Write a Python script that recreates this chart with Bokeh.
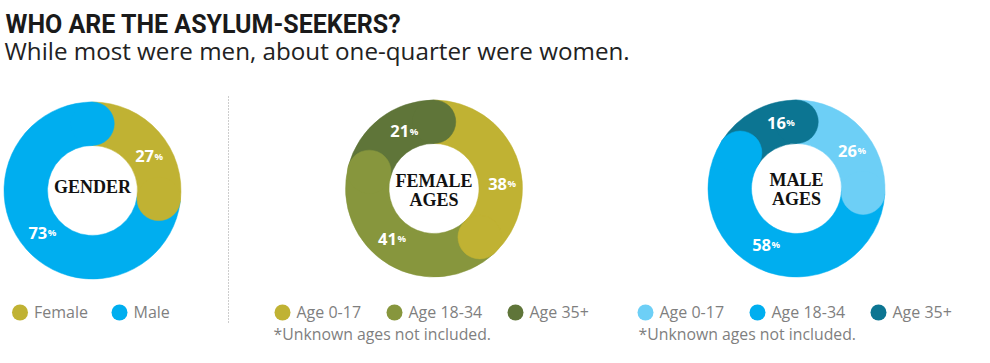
import math
from bokeh.plotting import figure
from bokeh.models import Range1d
from bokeh.core.properties import value
from bokeh.embed import file_html
from bokeh.resources import INLINE

# ---------------- data ----------------
title_text = "WHO ARE THE ASYLUM-SEEKERS?"
subtitle_text = "While most were men, about one-quarter were women."
chart_names = [["GENDER"], ["FEMALE", "AGES"], ["MALE", "AGES"]]
gender_categories = ["Female", "Male"]
gender_values = [27, 73]
female_age_categories = ["Age 0-17", "Age 18-34", "Age 35+"]
female_age_values = [38, 41, 21]
male_age_categories = ["Age 0-17", "Age 18-34", "Age 35+"]
male_age_values = [26, 58, 16]
footnote_text = "*Unknown ages not included."

# ---------------- styles ----------------
gender_colors = ["#C0B233", "#00AEEF"]
female_colors = ["#C0B233", "#87963D", "#5F7539"]
male_colors = ["#6DCFF6", "#00AEEF", "#0C7592"]

SANS = "Open Sans"
SERIF = "Liberation Serif"
LEGEND_GREY = "#7F7F7F"

# ---------------- layout (page pixel coords, y downwards) ----------------
W, H = 990, 363
def X(px):
    return px
def Y(py):
    return H - py

donut_centers = [(92, 190), (433.5, 188), (796, 188)]
R_OUT, R_IN = 88.5, 45.0
R_MID = (R_OUT + R_IN) / 2
CAP = (R_OUT - R_IN) / 2
# label placement: angular shift from the segment's mid angle, and radius
label_angle_shift = [[10.8, 0.9], [17.7, 8.6, 11.0], [9.3, 9.6, 16.2]]
label_radius = [[66.8, 64.7], [69.2, 64.9, 63.9], [68.0, 63.6, 67.3]]
center_line_offsets = [[-3.5], [-7.5, 11.5], [-8.5, 10.0]]

legend_circle_x = [[19.5, 119], [282, 394, 515], [645, 757, 878]]
legend_y = 312
legend_text_y = 311
footnote_x = [None, 273, 638]
footnote_y = 333.5

p = figure(width=W, height=H, output_backend="svg", toolbar_location=None,
           x_range=Range1d(0, W), y_range=Range1d(0, H),
           x_axis_location=None, y_axis_location=None, min_border=0,
           background_fill_color="white", border_fill_color="white")
p.outline_line_color = None
p.grid.visible = False

# title / subtitle
p.text(x=[X(5)], y=[Y(24)], text=[title_text], text_font=value("Roboto"),
       text_font_size="25px", text_font_style="bold", text_color="#1A1A1A",
       text_baseline="middle", text_align="left")
p.text(x=[X(4)], y=[Y(50)], text=[subtitle_text], text_font=value(SANS),
       text_font_size="24.2px", text_color="#222222",
       text_baseline="middle", text_align="left")

# separator
p.segment(x0=[X(228)], y0=[Y(96)], x1=[X(228)], y1=[Y(322)],
          line_color="#9A9A9A", line_width=1, line_dash="1 2")

datasets = [
    (gender_categories, gender_values, gender_colors),
    (female_age_categories, female_age_values, female_colors),
    (male_age_categories, male_age_values, male_colors),
]

for idx, (cats, vals, cols) in enumerate(datasets):
    cx, cy = donut_centers[idx]
    total = float(sum(vals))
    starts, ends = [], []
    acc = 0.0
    for v in vals:
        a0 = acc / total * 360.0
        acc += v
        a1 = acc / total * 360.0
        starts.append(a0)
        ends.append(a1)
    # wedges
    p.annular_wedge(x=[X(cx)] * len(vals), y=[Y(cy)] * len(vals),
                    inner_radius=R_IN, outer_radius=R_OUT,
                    start_angle=[math.pi / 2 - math.radians(a) for a in starts],
                    end_angle=[math.pi / 2 - math.radians(a) for a in ends],
                    direction="clock", fill_color=cols, line_color=cols,
                    line_width=0.5)
    # rounded end caps
    capx = [X(cx) + R_MID * math.sin(math.radians(a)) for a in ends]
    capy = [Y(cy) + R_MID * math.cos(math.radians(a)) for a in ends]
    p.circle(x=capx, y=capy, radius=CAP, fill_color=cols, line_color=cols,
             line_width=0.5)
    # percent labels (group centred on the computed point)
    lx, ly, txt = [], [], []
    for k, (a0, a1, v) in enumerate(zip(starts, ends, vals)):
        am = math.radians((a0 + a1) / 2 + label_angle_shift[idx][k])
        r = label_radius[idx][k]
        lx.append(X(cx) + r * math.sin(am))
        ly.append(Y(cy) + r * math.cos(am))
        txt.append(str(v))
    p.text(x=[v + 4 for v in lx], y=ly, text=txt, text_font=value(SANS),
           text_font_size="16.5px", text_font_style="bold", text_color="white",
           text_align="right", text_baseline="middle")
    p.text(x=[v + 4.5 for v in lx], y=[v + 6.5 for v in ly], text=["%"] * len(lx),
           text_font=value(SANS), text_font_size="9.5px", text_font_style="bold",
           text_color="white", text_align="left", text_baseline="top")
    # center label
    lines = chart_names[idx]
    offs = center_line_offsets[idx]
    p.text(x=[X(cx)] * len(lines), y=[Y(cy + o) for o in offs], text=lines,
           text_font=value(SERIF), text_font_size="18px", text_font_style="bold",
           text_color="#111111", text_align="center", text_baseline="middle")
    # legend
    lcx = legend_circle_x[idx]
    p.circle(x=[X(v) for v in lcx], y=[Y(legend_y)] * len(lcx), radius=8,
             fill_color=cols, line_color=None)
    p.text(x=[X(v) + 14 for v in lcx], y=[Y(legend_text_y)] * len(lcx), text=cats,
           text_font=value(SANS), text_font_size="16px", text_color=LEGEND_GREY,
           text_align="left", text_baseline="middle")
    if footnote_x[idx] is not None:
        p.text(x=[X(footnote_x[idx])], y=[Y(footnote_y)], text=[footnote_text],
               text_font=value(SANS), text_font_size="15.8px", text_color=LEGEND_GREY,
               text_align="left", text_baseline="middle")

open("out.html", "w").write(file_html(p, INLINE))
